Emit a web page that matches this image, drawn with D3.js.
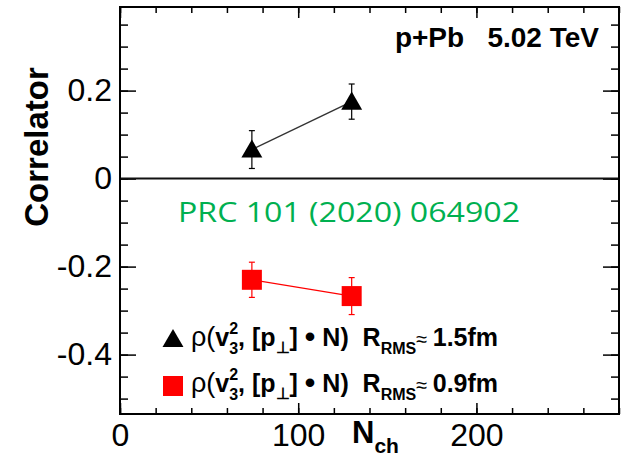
<!DOCTYPE html>
<html>
<head>
<meta charset="utf-8">
<script src="https://cdn.jsdelivr.net/npm/d3@7"></script>
<style>
  body { margin: 0; background: #fff; }
  svg { display: block; font-family: "Liberation Sans", Arial, Helvetica, sans-serif; }
</style>
</head>
<body>
<svg id="chart" width="629" height="458"></svg>
<script>
// values
const nch = [74, 130];
const triangleValues = [0.066, 0.175];
const triangleErrors = [0.043, 0.040];
const squareValues = [-0.230, -0.267];
const squareErrors = [0.040, 0.042];
const rmsLabels = ["1.5fm", "0.9fm"];
const xMajorTicks = [0, 100, 200];
const yMajorTicks = [-0.4, -0.2, 0, 0.2];
const xMinorTicks = d3.range(0, 281, 20);
const yMinorTicks = d3.range(-0.5, 0.36, 0.05);

const margin = { top: 7, right: 10, bottom: 44, left: 120 },
  width = 629 - margin.left - margin.right,
  height = 458 - margin.top - margin.bottom;

const x = d3.scaleLinear().domain([0, 280]).range([0, width]);
const y = d3.scaleLinear().domain([-0.535, 0.39]).range([height, 0]);

const svg = d3.select("#chart");
const g = svg.append("g")
  .attr("transform", "translate(" + margin.left + "," + margin.top + ")");

// ticks on all four sides, pointing inward
function addAxis(axis, transform, labels) {
  const a = g.append("g").attr("transform", transform).call(axis);
  a.select(".domain").remove();
  a.selectAll("line").attr("stroke", "#000").attr("stroke-width", 1.5);
  if (!labels) a.selectAll("text").remove();
  return a;
}
addAxis(d3.axisBottom(x).tickValues(xMinorTicks).tickSize(-6).tickFormat(""), "translate(0," + height + ")", false);
addAxis(d3.axisTop(x).tickValues(xMinorTicks).tickSize(-6).tickFormat(""), "translate(0,0)", false);
addAxis(d3.axisLeft(y).tickValues(yMinorTicks).tickSize(-8).tickFormat(""), "translate(0,0)", false);
addAxis(d3.axisRight(y).tickValues(yMinorTicks).tickSize(-8).tickFormat(""), "translate(" + width + ",0)", false);
addAxis(d3.axisTop(x).tickValues(xMajorTicks).tickSize(-11).tickFormat(""), "translate(0,0)", false);
addAxis(d3.axisRight(y).tickValues(yMajorTicks).tickSize(-16).tickFormat(""), "translate(" + width + ",0)", false);

const xAxis = addAxis(d3.axisBottom(x).tickValues(xMajorTicks).tickSize(-11).tickPadding(9).tickFormat(d3.format("d")),
  "translate(0," + height + ")", true);
// plain hyphen for minus, as in the figure
const yAxis = addAxis(d3.axisLeft(y).tickValues(yMajorTicks).tickSize(-16).tickPadding(8)
  .tickFormat((d) => (d === 0 ? "0" : (d < 0 ? "-" : "") + Math.abs(d).toFixed(1))), "translate(0,0)", true);
xAxis.selectAll("text").attr("font-size", 32).attr("font-family", "Liberation Sans").attr("fill", "#000");
yAxis.selectAll("text").attr("font-size", 32).attr("font-family", "Liberation Sans").attr("fill", "#000");

// zero line
g.append("line")
  .attr("x1", 0).attr("x2", width)
  .attr("y1", y(0)).attr("y2", y(0))
  .attr("stroke", "#111").attr("stroke-width", 2);

// frame
g.append("rect")
  .attr("width", width).attr("height", height)
  .attr("fill", "none").attr("stroke", "#000").attr("stroke-width", 2);

// series
const series = [
  { values: triangleValues, errors: triangleErrors, color: "#000", line: "#333", lineWidth: 1.5, marker: d3.symbolTriangle, size: 190 },
  { values: squareValues, errors: squareErrors, color: "#f00", line: "#f00", lineWidth: 1.2, marker: d3.symbolSquare, size: 400 },
];

series.forEach((s) => {
  const pts = nch.map((n, i) => ({ n: n, v: s.values[i], e: s.errors[i] }));
  const line = d3.line().x((d) => x(d.n)).y((d) => y(d.v));
  g.append("path").datum(pts)
    .attr("d", line).attr("fill", "none")
    .attr("stroke", s.line).attr("stroke-width", s.lineWidth);
  const err = g.append("g").attr("stroke", s.color).attr("stroke-width", 1.2);
  err.selectAll(".bar").data(pts).join("line")
    .attr("x1", (d) => x(d.n)).attr("x2", (d) => x(d.n))
    .attr("y1", (d) => y(d.v - d.e)).attr("y2", (d) => y(d.v + d.e));
  [-1, 1].forEach((k) => {
    err.selectAll(".cap" + k).data(pts).join("line")
      .attr("x1", (d) => x(d.n) - 3).attr("x2", (d) => x(d.n) + 3)
      .attr("y1", (d) => y(d.v + k * d.e)).attr("y2", (d) => y(d.v + k * d.e));
  });
  g.selectAll(null).data(pts).join("path")
    .attr("d", d3.symbol().type(s.marker).size(s.size))
    .attr("transform", (d) => "translate(" + x(d.n) + "," + (y(d.v) + (s.marker === d3.symbolTriangle ? 2 : 0)) + ")")
    .attr("fill", s.color);
});

// texts
svg.append("text")
  .attr("x", 599).attr("y", 47)
  .attr("text-anchor", "end")
  .attr("font-size", 28).attr("font-weight", "bold")
  .style("white-space", "pre")
  .text("p+Pb   5.02 TeV");

svg.append("text")
  .attr("transform", "translate(48,147) rotate(-90)")
  .attr("text-anchor", "middle")
  .attr("font-size", 33).attr("font-weight", "bold")
  .text("Correlator");

const xt = svg.append("text").attr("x", 352).attr("y", 443).attr("font-weight", "bold");
xt.append("tspan").attr("font-size", 31).text("N");
xt.append("tspan").attr("font-size", 21).attr("dy", 10).text("ch");

svg.append("text")
  .attr("x", 178).attr("y", 222)
  .attr("font-family", "Open Sans")
  .attr("font-size", 28)
  .attr("fill", "#00b050")
  .attr("textLength", 342).attr("lengthAdjust", "spacingAndGlyphs")
  .text("PRC 101 (2020) 064902");

// legend
const legendY = [346, 392];
series.forEach((s, i) => {
  const by = legendY[i];
  svg.append("path")
    .attr("d", d3.symbol().type(s.marker).size(s.size))
    .attr("transform", "translate(173," + (by - 5 + (s.marker === d3.symbolTriangle ? 0 : -1)) + ")")
    .attr("fill", s.color);
  const t = svg.append("text").attr("x", 191).attr("y", by)
    .attr("font-size", 25).attr("font-weight", "bold").style("white-space", "pre");
  t.append("tspan").attr("font-weight", "normal").attr("font-size", 27).text("ρ(");
  t.append("tspan").text("v");
  t.append("tspan").attr("font-size", 16).attr("dy", -12).text("2");
  t.append("tspan").attr("font-size", 16).attr("dx", -9).attr("dy", 20).text("3");
  t.append("tspan").attr("dy", -8).text(", [p");
  t.append("tspan").attr("font-size", 16).attr("dy", 7).text("⊥");
  t.append("tspan").attr("dy", -7).text("] ");
  t.append("tspan").attr("font-size", 30).attr("dy", 1).text("•");
  t.append("tspan").attr("dy", -1).text(" N)  R");
  t.append("tspan").attr("font-size", 16).attr("dy", 8).text("RMS");
  t.append("tspan").attr("font-weight", "normal").attr("font-size", 20).attr("dy", -8).text("≈ ");
  t.append("tspan").text(rmsLabels[i]);
});
</script>
</body>
</html>
